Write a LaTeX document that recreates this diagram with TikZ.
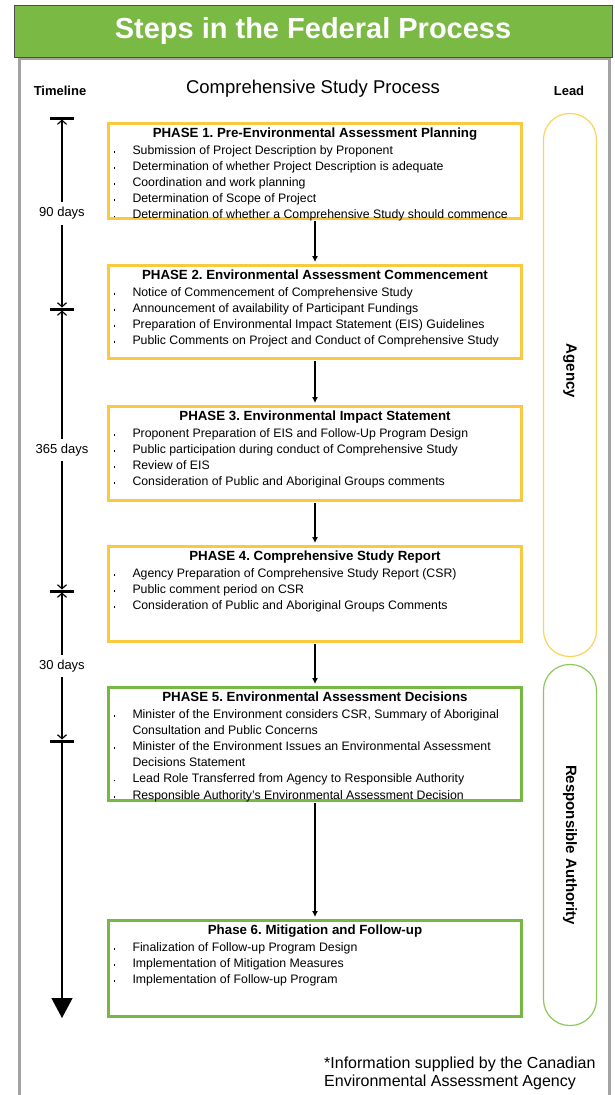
\documentclass[tikz,border=0pt]{standalone}
\usepackage{fontspec}
\setmainfont{Liberation Sans}
\usepackage{tikz}
\usetikzlibrary{arrows.meta}
\usetikzlibrary{shadows}
\usepackage{xcolor}
\frenchspacing

\definecolor{barGreen}{HTML}{7AB943}
\definecolor{boxYellow}{HTML}{FBC940}
\definecolor{boxGreen}{HTML}{77B843}
\definecolor{pillYellow}{HTML}{FCD35C}
\definecolor{pillGreen}{HTML}{8DC95A}
\definecolor{panelGray}{HTML}{A3A3A3}

% one bullet line of a phase box
\newcommand{\bul}{\par\hangindent=21pt\hangafter=1\noindent
    \makebox[21pt][l]{\hspace{2pt}\rule[1.5pt]{1.9pt}{1.9pt}}}
\newcommand{\phaseText}[3]{\parbox[t][#1pt][t]{407pt}{\vspace*{2.5pt}\centering
    \fontsize{13.3}{16}\selectfont\bfseries #2\par\vspace{0.8pt}
    \raggedright\fontsize{12.3}{16.2}\selectfont\mdseries #3}}

\begin{document}
\begin{tikzpicture}[x=1pt,y=-1pt,
    phase/.style={draw=#1, line width=3pt, inner xsep=3pt, inner ysep=2pt,
        anchor=north, fill=white},
    flow/.style={line width=1.1pt, -{Latex[length=6pt,width=6pt]},
        shorten >=1.5pt, shorten <=1.5pt},
    span/.style={line width=1.2pt,
        {Straight Barb[length=4pt,width=9pt]}-{Straight Barb[length=4pt,width=9pt]},
        shorten >=1.5pt, shorten <=1.5pt},
    days/.style={midway, fill=white, inner xsep=1pt, inner ysep=5pt,
        font=\fontsize{13}{15}\selectfont},
    leadpill/.style={draw=#1, line width=1.2pt, rounded corners=26pt,
        minimum height=53pt, rotate=-90}]
    \useasboundingbox (0,0) rectangle (615,1095);

    % frame and title bar
    \draw[panelGray, line width=3pt] (19,1110) -- (19,58) -- (609,58) -- (609,1110);
    \node[draw=black!70, line width=1pt, fill=barGreen, minimum width=598pt,
        minimum height=52pt, text=white, font=\fontsize{29}{32}\selectfont\bfseries]
        (title) at (313,31) {Steps in the Federal Process};

    \node[font=\fontsize{13}{15}\selectfont\bfseries] (hTime) at (60,91) {Timeline};
    \node[font=\fontsize{18.5}{20}\selectfont] (hProc) at (313,89) {Comprehensive Study Process};
    \node[font=\fontsize{13}{15}\selectfont\bfseries] (hLead) at (569,91) {Lead};

    % phases
    \node[phase=boxYellow] (p1) at (315,121.5) {\phaseText{91}
        {PHASE 1. Pre-Environmental Assessment Planning}
        {\bul Submission of Project Description by Proponent
         \bul Determination of whether Project Description is adequate
         \bul Coordination and work planning
         \bul Determination of Scope of Project
         \bul Determination of whether a Comprehensive Study should commence}};
    \node[phase=boxYellow] (p2) at (315,263.5) {\phaseText{89}
        {PHASE 2. Environmental Assessment Commencement}
        {\bul Notice of Commencement of Comprehensive Study
         \bul Announcement of availability of Participant Fundings
         \bul Preparation of Environmental Impact Statement (EIS) Guidelines
         \bul Public Comments on Project and Conduct of Comprehensive Study}};
    \node[phase=boxYellow] (p3) at (315,404.5) {\phaseText{90}
        {PHASE 3. Environmental Impact Statement}
        {\bul Proponent Preparation of EIS and Follow-Up Program Design
         \bul Public participation during conduct of Comprehensive Study
         \bul Review of EIS
         \bul Consideration of Public and Aboriginal Groups comments}};
    \node[phase=boxYellow] (p4) at (315,544.5) {\phaseText{91}
        {PHASE 4. Comprehensive Study Report}
        {\bul Agency Preparation of Comprehensive Study Report (CSR)
         \bul Public comment period on CSR
         \bul Consideration of Public and Aboriginal Groups Comments}};
    \node[phase=boxGreen, drop shadow={shadow xshift=1.2pt, shadow yshift=-1.2pt,
        fill=black!75, opacity=1}] (p5) at (315,685.5) {\phaseText{109}
        {PHASE 5. Environmental Assessment Decisions}
        {\bul Minister of the Environment considers CSR, Summary of Aboriginal\newline
              Consultation and Public Concerns
         \bul Minister of the Environment Issues an Environmental Assessment\newline
              Decisions Statement
         \bul Lead Role Transferred from Agency to Responsible Authority
         \bul Responsible Authority's Environmental Assessment Decision}};
    \node[phase=boxGreen] (p6) at (315,918.5) {\phaseText{92}
        {Phase 6. Mitigation and Follow-up}
        {\bul Finalization of Follow-up Program Design
         \bul Implementation of Mitigation Measures
         \bul Implementation of Follow-up Program}};

    \draw[flow] (p1.south) -- (p2.north);
    \draw[flow] (p2.south) -- (p3.north);
    \draw[flow] (p3.south) -- (p4.north);
    \draw[flow] (p4.south) -- (p5.north);
    \draw[flow] (p5.south) -- (p6.north);

    % timeline
    \coordinate (t0) at (62,118);
    \coordinate (t1) at (62,309);
    \coordinate (t2) at (62,591);
    \coordinate (t3) at (62,741);
    \coordinate (tEnd) at (62,1018);
    \foreach \t in {t0,t1,t2,t3}
        \draw[line width=3pt] (\t) ++(-12,0) -- ++(24,0);
    \draw[span] (t0) -- (t1) node[days] (d90) {90 days};
    \draw[span] (t1) -- (t2) node[days] (d365) {365 days};
    \draw[span] (t2) -- (t3) node[days] (d30) {30 days};
    \draw[line width=1.2pt, -{Triangle[width=21pt,length=20pt]}] (t3) -- (tEnd);

    % lead
    \node[leadpill=pillYellow, minimum width=543pt] (agency) at (570,385) {};
    \node[rotate=-90, font=\fontsize{15}{17}\selectfont\bfseries] (agencyTxt)
        at (570,371) {Agency};
    \node[leadpill=pillGreen, minimum width=361pt] (ra) at (570,845) {};
    \node[rotate=-90, font=\fontsize{15}{17}\selectfont\bfseries] (raTxt)
        at (570,845) {Responsible Authority};

    \node[anchor=north west, align=left, inner sep=0pt,
        font=\fontsize{16}{18}\selectfont] (note) at (324,1057)
        {*Information supplied by the Canadian\\Environmental Assessment Agency};
\end{tikzpicture}
\end{document}
